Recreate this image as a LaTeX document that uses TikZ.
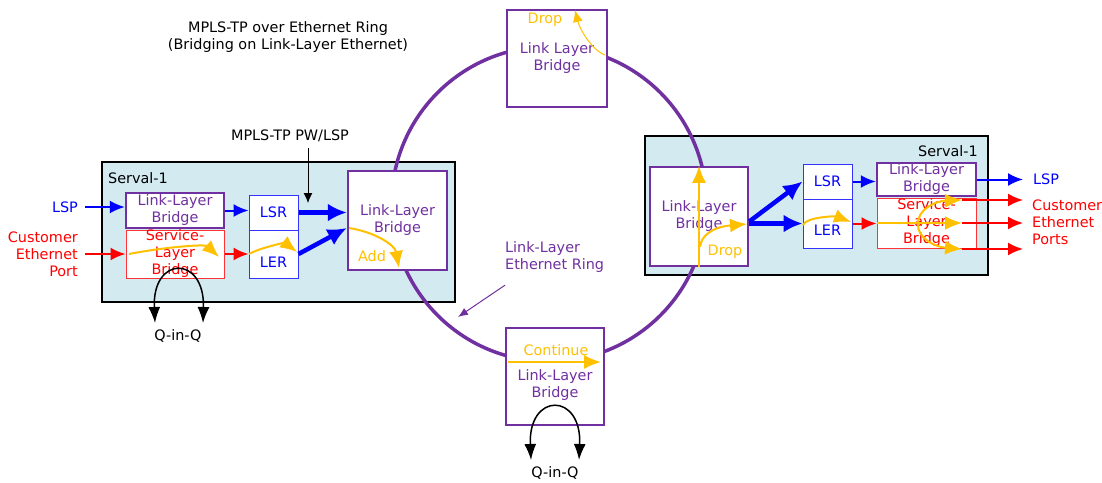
\documentclass[tikz,border=0pt]{standalone}
\usepackage{fontspec}
\setmainfont{DejaVu Sans}
\usetikzlibrary{arrows.meta,calc}
\definecolor{pur}{HTML}{7030A0}
\definecolor{yel}{HTML}{FFC000}
\definecolor{fillb}{HTML}{D2EAF0}
\definecolor{bl}{HTML}{0000FF}
\definecolor{rd}{HTML}{FF0000}
\begin{document}
\begin{tikzpicture}[x=1pt,y=-1pt,
  every node/.style={font=\fontsize{14.4}{17}\selectfont, inner sep=0pt, align=center},
  sz/.style 2 args={minimum width=#1pt, minimum height=#2pt},
  serval/.style={draw=black, line width=1.5pt, fill=fillb},
  llb/.style={draw=pur, line width=2.5pt, fill=white, text=pur},
  slb/.style={draw=rd!80, line width=1pt, fill=white, text=rd},
  lsx/.style={draw=bl!80, line width=1pt, fill=white, text=bl},
  ring/.style={draw=pur, line width=3.5pt},
  thinb/.style={draw=bl, line width=2pt, -{Latex[length=15pt,width=13pt]}},
  thickb/.style={draw=bl, line width=4.5pt, -{Latex[length=19pt,width=18pt]}},
  yarr/.style={draw=yel, line width=2pt, -{Latex[length=17pt,width=14pt]}},
  redarr/.style={draw=rd, line width=2pt, -{Latex[length=15pt,width=13pt]}},
  blk/.style={draw=black, line width=1.5pt, {Latex[length=16pt,width=12pt]}-{Latex[length=16pt,width=12pt]}},
  thinblk/.style={draw=black, line width=1pt, -{Latex[length=10pt,width=9pt]}},
]
\useasboundingbox (0,0) rectangle (1102,482);

% Serval boxes
\node[serval, sz={353}{140}] (serL) at (278.5,232) {};
\node[serval, sz={343}{139}] (serR) at (816.5,205.5) {};

% ring
\draw[ring] (549,204) circle[radius=157.5pt];

% left Serval contents
\node[llb, sz={99}{99}] (bigL) at (397.5,220.5) {Link-Layer\\Bridge};
\node[llb, sz={98}{35}] (llbL) at (175,210.5) {Link-Layer\\Bridge};
\node[slb, sz={98}{48}] (slbL) at (175,254) {Service-\\Layer\\Bridge};
\node[lsx, sz={49}{35}] (lsrL) at (273.5,212.5) {LSR};
\node[lsx, sz={49}{48}, label={[text=bl, yshift=-8pt]center:LER}] (lerL) at (273.5,254) {};

% right Serval contents
\node[llb, sz={98}{99}] (bigR) at (699,216.5) {Link-Layer\\Bridge};
\node[lsx, sz={49}{35}] (lsrR) at (827.5,181.5) {LSR};
\node[lsx, sz={49}{49}, label={[text=bl, yshift=-7pt]center:LER}] (lerR) at (827.5,223.5) {};
\node[llb, sz={99}{33}] (llbR) at (926.5,179.5) {Link-Layer\\Bridge};
\node[slb, sz={99}{50}] (slbR) at (926.5,223) {Service-\\Layer\\Bridge};

% top and bottom ring bridges
\node[llb, line width=2pt, sz={100}{97}] (topB) at (557,58.5) {Link Layer\\Bridge};
\node[llb, line width=2pt, sz={98}{97}] (botB) at (555,376.5) {};
\node[text=pur] (botT) at (555,385.5) {Link-Layer\\Bridge};
\node[text=yel] (cont) at (556,350) {Continue};
\node[text=yel] (dropT) at (545,20) {Drop};

% labels
\node (title) at (288,37.5) {MPLS-TP over Ethernet Ring\\(Bridging on Link-Layer Ethernet)};
\node[anchor=west] (serLt) at (108,178) {Serval-1};
\node[anchor=east] (serRt) at (978,151) {Serval-1};
\node[text=bl] (lspL) at (65,207) {LSP};
\node[text=rd, align=right, anchor=east] (custL) at (78,254) {Customer\\Ethernet\\Port};
\node (mpls) at (290,136) {MPLS-TP PW/LSP};
\node[text=yel] (add) at (372,256) {Add};
\node[text=pur, align=left, anchor=west] (ringL) at (505,257.5) {Link-Layer\\Ethernet Ring};
\node[text=yel] (dropR) at (725,252) {Drop};
\node[text=bl, anchor=west] (lspR) at (1033,179) {LSP};
\node[text=rd, align=left, anchor=west] (custR) at (1032,222) {Customer\\Ethernet\\Ports};
\node (qL) at (178,336) {Q-in-Q};
\node (qB) at (555,473) {Q-in-Q};

% coordinates
\coordinate (pwTip) at (308,203);
\coordinate (ringPt) at (458,317);
\coordinate (r1) at (962,200);
\coordinate (r2) at (962,223);
\coordinate (r3) at (962,249);
\coordinate (qLa) at (155,323);
\coordinate (qLb) at (203,323);
\coordinate (qBa) at (531,460);
\coordinate (qBb) at (579,460);

% left connectors
\draw[thinb, shorten <=7pt] (lspL.east) -- (lspL.east -| llbL.west);
\draw[redarr, shorten <=7pt] (custL.east) -- (custL.east -| slbL.west);
\draw[thinb] (llbL.east) -- (llbL.east -| lsrL.west);
\draw[redarr] (slbL.east) -- (lerL.west);
\draw[thickb] (lsrL.east) -- (lsrL.east -| bigL.west);
\draw[thickb] (lerL.east) -- ($(bigL.west)+(0,7.5)$);
\draw[thinblk, shorten <=6pt] (mpls.south -| pwTip) -- (pwTip);
\draw[yarr] (129,254) .. controls (165,247) and (205,244) .. (219,257);
\draw[yarr] (249,254) .. controls (262,247) and (285,243) .. (297,252);
\draw[yarr] (349,228) .. controls (375,232) and (395,245) .. (399,268);

% ring items
\draw[draw=yel, line width=1pt, -{Latex[length=12pt,width=10pt]}] (605,55) .. controls (592,50) and (580,30) .. (575,10);
\draw[yarr] (508,362) -- (601,362);
\draw[draw=pur, line width=1pt, -{Latex[length=10pt,width=8pt]}] ($(ringL.south west)+(0,12)$) -- (ringPt);

% right connectors
\draw[yarr] (bigR.south) -- (bigR.north);
\draw[yarr] (700,247) .. controls (701,236) and (712,227) .. (747,224);
\draw[thickb] (bigR.east |- lerR.west) -- (lerR.west);
\draw[thickb] ($(bigR.east |- lerR.west)+(0,-2)$) -- (lsrR.west);
\draw[thinb] (lsrR.east) -- (lsrR.east -| llbR.west);
\draw[thinb, shorten >=10pt] (llbR.east) -- (llbR.east -| lspR.west);
\draw[redarr] (lerR.east) -- (lerR.east -| slbR.west);
\draw[redarr, shorten >=9pt] (r1) -- (r1 -| custR.west);
\draw[redarr, shorten >=9pt] (r2) -- (r2 -| custR.west);
\draw[redarr, shorten >=9pt] (r3) -- (r3 -| custR.west);
\draw[yarr] (803,225) .. controls (806,217) and (835,216) .. (851,222);
\draw[yarr] (slbR.west) -- (r2);
\draw[yarr] (918,224) .. controls (917,210) and (935,201) .. (r1);
\draw[yarr] (918,224) .. controls (917,238) and (935,247) .. (r3);

% Q-in-Q
\draw[blk] (qLa) .. controls (152,255) and (205,255) .. (qLb);
\draw[blk] (qBa) .. controls (528,392) and (582,392) .. (qBb);
\end{tikzpicture}
\end{document}
